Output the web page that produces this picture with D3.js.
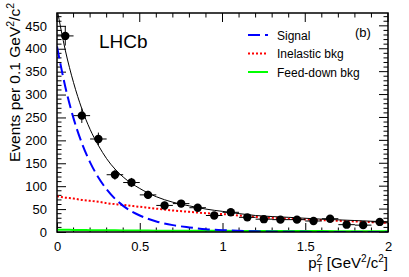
<!DOCTYPE html>
<html>
<head>
<meta charset="utf-8">
<script src="https://d3js.org/d3.v7.min.js"></script>
<style>
  html, body { margin: 0; padding: 0; background: #fff; }
  svg text { font-family: "Liberation Sans", Arial, Helvetica, sans-serif; fill: #000; }
</style>
</head>
<body>
<div id="chart"></div>
<script>
/* ---------- data ---------- */

// bin centres in pT^2 [GeV^2/c^2], bin width 0.1
const binCentres = [0.05, 0.15, 0.25, 0.35, 0.45, 0.55, 0.65, 0.75, 0.85, 0.95,
                    1.05, 1.15, 1.25, 1.35, 1.45, 1.55, 1.65, 1.75, 1.85, 1.95];
const counts     = [428, 254, 203, 125, 108, 81, 58, 62, 53, 36,
                    43, 32, 28, 27, 27, 24, 29, 16, 15, 22];
const countErrs  = [21, 16, 14, 11, 10, 9, 8, 8, 7, 6,
                    7, 6, 5, 5, 5, 5, 5, 4, 4, 5];

// fit curves, sampled along pT^2
const curveX      = [0, 0.05, 0.1, 0.15, 0.2, 0.25, 0.3, 0.4, 0.5, 0.6,
                     0.7, 0.8, 0.9, 1.0, 1.2, 1.4, 1.6, 1.8, 2.0];
const signalY     = [405, 317, 248, 194, 152, 119, 93, 57, 36, 23,
                     15, 10, 6, 4, 1.5, 0.5, 0.2, 0.1, 0];
const inelasticY  = [78, 75, 73, 70, 68, 66, 63, 59, 55, 51,
                     47, 44, 41, 39, 33, 29, 26, 23, 20];
const feedDownY   = [5, 5, 4.5, 4.5, 4, 4, 4, 3.5, 3.5, 3,
                     3, 3, 2.5, 2.5, 2, 2, 2, 1.5, 1.5];
const totalY      = [488, 397, 326, 269, 224, 189, 160, 120, 95, 77,
                     65, 57, 50, 45, 36, 32, 28, 25, 22];

const xTicks = [0, 0.5, 1, 1.5, 2];
const yTicks = [0, 50, 100, 150, 200, 250, 300, 350, 400, 450];

const legendItems = [
  { label: 'Signal',        color: '#0000ff', dash: '12,5' },
  { label: 'Inelastic bkg', color: '#ff0000', dash: '2,2' },
  { label: 'Feed-down bkg', color: '#00ff00', dash: null }
];

/* ---------- layout ---------- */

const W = 409, H = 277;
const M = { top: 13, right: 21, bottom: 45, left: 57 };
const iw = W - M.left - M.right;
const ih = H - M.top - M.bottom;

const svg = d3.select('#chart').append('svg')
  .attr('width', W)
  .attr('height', H);

const x = d3.scaleLinear().domain([0, 2]).range([0, iw]);
const y = d3.scaleLinear().domain([0, 478]).range([ih, 0]);

svg.append('defs').append('clipPath').attr('id', 'plotclip')
  .append('rect').attr('width', iw).attr('height', ih);

const g = svg.append('g').attr('transform', `translate(${M.left},${M.top})`);

/* ---------- axes (ROOT style, ticks inside) ---------- */

const yAxis = d3.axisLeft(y).tickValues(yTicks).tickSize(-9).tickPadding(14);
const xAxis = d3.axisBottom(x).tickValues(xTicks).tickSize(-9).tickPadding(16).tickFormat(d3.format('~g'));

const yG = g.append('g').call(yAxis);
const xG = g.append('g').attr('transform', `translate(0,${ih})`).call(xAxis);

[xG, yG].forEach(a => {
  a.select('.domain').remove();
  a.selectAll('.tick line').attr('stroke', '#000');
  a.selectAll('.tick text').attr('font-size', 13);
});
xG.selectAll('.tick text').attr('dy', '0.2em');
yG.selectAll('.tick text').attr('dx', '0.3em');

// minor ticks
const yMinor = d3.range(0, 478, 10).filter(v => v % 50 !== 0);
const xMinor = d3.range(0, 2.0001, 0.1).filter(v => Math.abs(v * 2 - Math.round(v * 2)) > 1e-6);
const ticksG = g.append('g').attr('stroke', '#000').attr('stroke-width', 1);

yMinor.forEach(v => {
  ticksG.append('line').attr('x1', 0).attr('x2', 4.5).attr('y1', y(v)).attr('y2', y(v));
  ticksG.append('line').attr('x1', iw).attr('x2', iw - 4.5).attr('y1', y(v)).attr('y2', y(v));
});
yTicks.forEach(v => {
  ticksG.append('line').attr('x1', iw).attr('x2', iw - 9).attr('y1', y(v)).attr('y2', y(v));
});
xMinor.forEach(v => {
  ticksG.append('line').attr('x1', x(v)).attr('x2', x(v)).attr('y1', ih).attr('y2', ih - 4.5);
  ticksG.append('line').attr('x1', x(v)).attr('x2', x(v)).attr('y1', 0).attr('y2', 4.5);
});
xTicks.forEach(v => {
  ticksG.append('line').attr('x1', x(v)).attr('x2', x(v)).attr('y1', 0).attr('y2', 9);
});

/* ---------- curves ---------- */

const plot = g.append('g').attr('clip-path', 'url(#plotclip)');

function drawCurve(values, color, width, dash) {
  const line = d3.line()
    .x((d, i) => x(curveX[i]))
    .y(d => y(d))
    .curve(d3.curveMonotoneX);
  plot.append('path')
    .datum(values)
    .attr('d', line)
    .attr('fill', 'none')
    .attr('stroke', color)
    .attr('stroke-width', width)
    .attr('stroke-dasharray', dash);
}

drawCurve(feedDownY,  '#00ff00', 2, null);
drawCurve(inelasticY, '#ff0000', 2, '2,2');
drawCurve(signalY,    '#0000ff', 2, '12,5');
drawCurve(totalY,     '#000000', 1, null);

/* ---------- data points ---------- */

const pts = plot.append('g').selectAll('g')
  .data(binCentres.map((c, i) => ({ c, n: counts[i], e: countErrs[i] })))
  .join('g');

pts.append('line')
  .attr('x1', d => x(d.c - 0.05)).attr('x2', d => x(d.c + 0.05))
  .attr('y1', d => y(d.n)).attr('y2', d => y(d.n))
  .attr('stroke', '#000').attr('stroke-width', 1);
pts.append('line')
  .attr('x1', d => x(d.c)).attr('x2', d => x(d.c))
  .attr('y1', d => y(d.n - d.e)).attr('y2', d => y(d.n + d.e))
  .attr('stroke', '#000').attr('stroke-width', 1);
pts.append('circle')
  .attr('cx', d => x(d.c)).attr('cy', d => y(d.n))
  .attr('r', 4.2).attr('fill', '#000');

/* ---------- frame ---------- */

g.append('rect')
  .attr('width', iw).attr('height', ih)
  .attr('fill', 'none').attr('stroke', '#000').attr('stroke-width', 1.5);

/* ---------- labels ---------- */

g.append('text')
  .attr('x', 42).attr('y', 35)
  .attr('font-size', 19)
  .text('LHCb');

g.append('text')
  .attr('x', 298).attr('y', 24)
  .attr('font-size', 13)
  .text('(b)');

const leg = g.append('g').attr('transform', 'translate(191,22)');
legendItems.forEach((d, i) => {
  const row = leg.append('g').attr('transform', `translate(0,${i * 18.5})`);
  row.append('line')
    .attr('x1', 0).attr('x2', 20)
    .attr('stroke', d.color).attr('stroke-width', 2)
    .attr('stroke-dasharray', d.dash);
  row.append('text')
    .attr('x', 29).attr('y', 4.5)
    .attr('font-size', 12)
    .text(d.label);
});

// axis titles
const xt = svg.append('text')
  .attr('x', M.left + iw).attr('y', 268)
  .attr('text-anchor', 'end')
  .attr('font-size', 15);
xt.append('tspan').text('p');
xt.append('tspan').attr('font-size', 10).attr('dy', -6).text('2');
xt.append('tspan').attr('font-size', 10).attr('dx', -5.5).attr('dy', 10).text('T');
xt.append('tspan').attr('dy', -4).text(' [GeV');
xt.append('tspan').attr('font-size', 10).attr('dy', -6).text('2');
xt.append('tspan').attr('dy', 6).text('/c');
xt.append('tspan').attr('font-size', 10).attr('dy', -6).text('2');
xt.append('tspan').attr('dy', 6).text(']');

const yt = svg.append('text')
  .attr('transform', 'translate(20,3) rotate(-90)')
  .attr('text-anchor', 'end')
  .attr('font-size', 15.5);
yt.append('tspan').text('Events per 0.1 GeV');
yt.append('tspan').attr('font-size', 10.5).attr('dy', -6).text('2');
yt.append('tspan').attr('dy', 6).text('/c');
yt.append('tspan').attr('font-size', 10.5).attr('dy', -6).text('2');
</script>
</body>
</html>
